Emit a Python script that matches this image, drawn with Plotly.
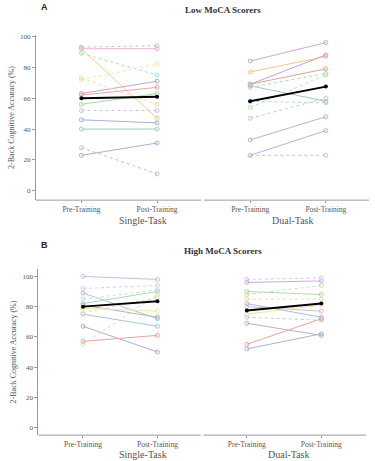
import plotly.graph_objects as go
from plotly.subplots import make_subplots

# ---------------- data ----------------
conditions = ["Pre-Training", "Post-Training"]
tasks = ["Single-Task", "Dual-Task"]

low_single_pre = [92, 89, 92, 72, 63, 62, 56, 52, 46, 40, 23, 28, 93, 73]
low_single_post = [92, 75, 47, 82, 71, 67, 63, 52, 44, 40, 31, 11, 94, 56]
low_single_mean = [60, 61]

low_dual_pre = [84, 77, 69, 69, 68, 67, 54, 47, 33, 23, 23, 58]
low_dual_post = [96, 87, 88, 79, 58, 76, 75, 60, 48, 39, 23, 57]
low_dual_mean = [58, 67.5]

high_single_pre = [100, 92, 89, 82, 81, 79, 75, 67, 57, 55, 85, 76]
high_single_post = [98, 94, 72, 90, 73, 77, 67, 50, 61, 88, 91, 86]
high_single_mean = [80, 83.5]

high_dual_pre = [96, 98, 90, 88, 82, 80, 75, 73, 69, 55, 52, 85]
high_dual_post = [97, 99, 88, 94, 73, 77, 81, 71, 61, 72, 62, 85]
high_dual_mean = [77.5, 82]

y_ticks = [0, 20, 40, 60, 80, 100]

# ---------------- styles ----------------
low_single_colors = ["#eab0d2", "#a8dcdc", "#f2cf80", "#f0e8a8", "#b8a8d4", "#eaa4a4",
                     "#a8dba8", "#d4c0e0", "#a4b4d4", "#a4d0b8", "#b0acd4", "#c0c0c8",
                     "#d4b8e0", "#f2dca8"]
low_single_dash = ["solid", "dot", "solid", "dot", "solid", "solid", "solid", "dot",
                   "solid", "solid", "solid", "dot", "dot", "dot"]
low_dual_colors = ["#c4aad8", "#f2c888", "#c4a0d4", "#e8a094", "#a0c8c8", "#acdcac",
                   "#bce4a8", "#ccccb4", "#a8bcc8", "#b0b4dc", "#c4c4c4", "#b4d0e0"]
low_dual_dash = ["solid", "solid", "solid", "solid", "solid", "dot", "dot", "dot",
                 "solid", "solid", "dot", "dot"]
high_single_colors = ["#d4b8e0", "#e0cce8", "#a0d0d4", "#acdcac", "#b4b4c0", "#f0e8a8",
                      "#a8c4e0", "#a8b4d4", "#eaa4a4", "#d4e0b4", "#c8dcec", "#f2d8ac"]
high_single_dash = ["solid", "dot", "solid", "solid", "solid", "solid", "solid", "solid",
                    "solid", "dot", "dot", "dot"]
high_dual_colors = ["#c8acdc", "#e0c4e8", "#acdcac", "#cce0b4", "#a8bcdc", "#dcb8d4",
                    "#f0e8a8", "#cccccc", "#b4b4c0", "#eaa4a4", "#a8b4d4", "#f2d8ac"]
high_dual_dash = ["solid", "dot", "solid", "dot", "solid", "solid", "solid", "dot",
                  "solid", "solid", "solid", "dot"]

x_pos_a = [[0, 1], [2.23, 3.23]]
x_pos_b = [[0, 1], [2.2, 3.2]]
x_range = [-0.6, 3.8]
x_gap = 1.6
serif = "Liberation Serif, Times New Roman, serif"
axis_col = "#999999"
text_col = "#555555"

fig = make_subplots(rows=2, cols=1)


def add_group(row, xs, pre, post, colors, dashes, mean):
    for i in range(len(pre)):
        fig.add_trace(go.Scatter(
            x=xs, y=[pre[i], post[i]], mode="lines+markers",
            line=dict(color=colors[i % len(colors)], width=1, dash=dashes[i % len(dashes)]),
            marker=dict(symbol="circle-open", size=4, color=colors[i % len(colors)]),
            showlegend=False, hoverinfo="skip"), row=row, col=1)
    fig.add_trace(go.Scatter(
        x=xs, y=mean, mode="lines+markers",
        line=dict(color="black", width=2),
        marker=dict(symbol="circle", size=4, color="black"),
        showlegend=False), row=row, col=1)


add_group(1, x_pos_a[0], low_single_pre, low_single_post, low_single_colors, low_single_dash, low_single_mean)
add_group(1, x_pos_a[1], low_dual_pre, low_dual_post, low_dual_colors, low_dual_dash, low_dual_mean)
add_group(2, x_pos_b[0], high_single_pre, high_single_post, high_single_colors, high_single_dash, high_single_mean)
add_group(2, x_pos_b[1], high_dual_pre, high_dual_post, high_dual_colors, high_dual_dash, high_dual_mean)

H = 461.0
W_plot = 375 - 36 - 6
dom1 = [1 - 199 / H, 1 - 33 / H]
dom2 = [1 - 435 / H, 1 - 268 / H]
xdom2 = [(38.3 - 36) / W_plot, (366.0 - 36) / W_plot]


def xaxis_cfg(xp, dom):
    return dict(domain=dom, range=x_range, tickvals=xp[0] + xp[1],
                ticktext=conditions + conditions, showline=False,
                ticks="outside", ticklen=2, tickcolor=axis_col,
                showgrid=False, zeroline=False,
                tickfont=dict(family=serif, size=7.5, color=text_col))


ycommon = dict(tickvals=y_ticks, showline=True, linecolor=axis_col, linewidth=1,
               ticks="outside", ticklen=3, tickcolor=axis_col, showgrid=False, zeroline=False,
               tickfont=dict(family=serif, size=7, color=text_col),
               title=dict(text="2-Back Cognitive Accuracy (%)",
                          font=dict(family=serif, size=8, color=text_col), standoff=4))

fig.update_layout(
    width=375, height=461,
    margin=dict(l=36, r=6, t=0, b=0),
    plot_bgcolor="white", paper_bgcolor="white",
    xaxis=xaxis_cfg(x_pos_a, [0, 1]),
    xaxis2=xaxis_cfg(x_pos_b, xdom2),
    yaxis=dict(domain=dom1, range=[-6, 101], **ycommon),
    yaxis2=dict(domain=dom2, range=[-5, 105], **ycommon),
)

# x-axis baseline split into two segments (one per task)
for xr, yr in (("x", "y domain"), ("x2", "y2 domain")):
    for x0, x1 in ((x_range[0], x_gap - 0.02), (x_gap + 0.02, x_range[1])):
        fig.add_shape(type="line", xref=xr, yref=yr, x0=x0, x1=x1, y0=0, y1=0,
                      line=dict(color=axis_col, width=1))

anns = [
    dict(text="<b>A</b>", x=3, y=5, font=dict(family="Liberation Sans, Arial", size=9, color="#222")),
    dict(text="<b>Low MoCA Scorers</b>", x=211, y=8, font=dict(family=serif, size=9, color="#333")),
    dict(text="<b>B</b>", x=3, y=244, font=dict(family="Liberation Sans, Arial", size=9, color="#222")),
    dict(text="<b>High MoCA Scorers</b>", x=211, y=250, font=dict(family=serif, size=9, color="#333")),
    dict(text=tasks[0], x=120, y=219, font=dict(family=serif, size=10, color=text_col)),
    dict(text=tasks[1], x=289, y=219, font=dict(family=serif, size=10, color=text_col)),
    dict(text=tasks[0], x=120, y=454, font=dict(family=serif, size=10, color=text_col)),
    dict(text=tasks[1], x=285, y=454, font=dict(family=serif, size=10, color=text_col)),
]
for a in anns:
    px, py = a.pop("x"), a.pop("y")
    xa = "center" if "Scorers" in a["text"] or "Task" in a["text"] else "left"
    fig.add_annotation(x=px / 375.0, y=1 - py / H, xref="paper", yref="paper",
                       xanchor=xa, yanchor="middle", showarrow=False, **a)

fig.write_html("out.html", config={"displayModeBar": False},
               post_script="document.body.style.margin='0';document.body.style.overflow='hidden';")
